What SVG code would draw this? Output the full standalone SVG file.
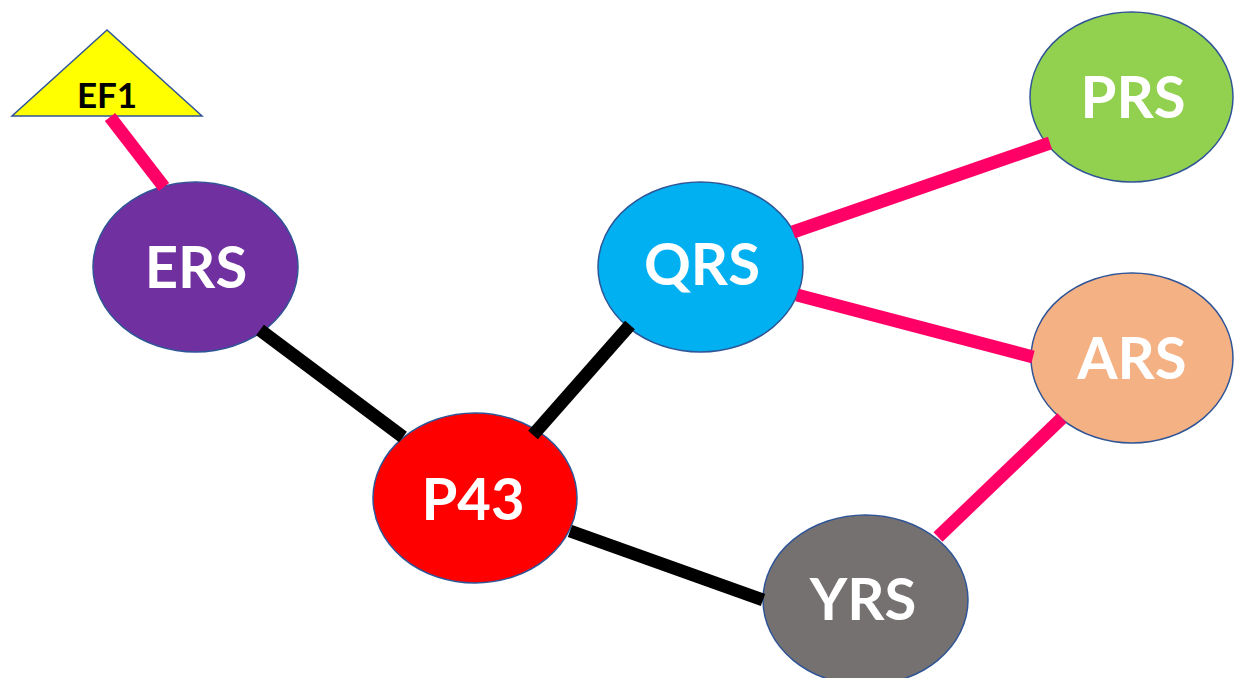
<svg xmlns="http://www.w3.org/2000/svg" width="1234" height="678" viewBox="0 0 1234 678">
<style>
.n{stroke:#2F5597;stroke-width:1.5}
.t{font-family:Lato,"Open Sans",sans-serif;font-weight:bold;font-size:58px;fill:#fff;text-anchor:middle}
.e{font-family:Lato,"Open Sans",sans-serif;font-weight:bold;font-size:35px;fill:#000;text-anchor:middle}
.k{stroke:#000;stroke-width:13;stroke-linecap:butt}
.p{stroke:#FF0066;stroke-width:13;stroke-linecap:butt}
</style>
<rect width="1234" height="678" fill="#fff"/>
<g id="EF1"><polygon class="n" points="107,30 12,116 202,116" fill="#FFFF00"/><text class="e" x="107" y="108">EF1</text></g>
<g id="ERS"><ellipse class="n" cx="195.5" cy="267" rx="102.5" ry="85" fill="#7030A0"/><text class="t" x="196" y="288">ERS</text></g>
<g id="P43"><ellipse class="n" cx="475" cy="498" rx="102" ry="85" fill="#FF0000"/><text class="t" x="473" y="520">P43</text></g>
<g id="QRS"><ellipse class="n" cx="700.5" cy="267" rx="102.5" ry="85" fill="#00B0F0"/><text class="t" x="702" y="285">QRS</text></g>
<g id="PRS"><ellipse class="n" cx="1131.5" cy="97" rx="101.5" ry="85" fill="#92D050"/><text class="t" x="1133" y="118">PRS</text></g>
<g id="ARS"><ellipse class="n" cx="1132" cy="358" rx="101" ry="85" fill="#F4B183"/><text class="t" x="1132" y="379">ARS</text></g>
<g id="YRS"><ellipse class="n" cx="865.5" cy="600" rx="102.5" ry="85" fill="#767171"/><text class="t" x="863" y="620">YRS</text></g>
<g id="connectors">
<line class="p" x1="110" y1="117" x2="164" y2="187"/>
<line class="k" x1="260" y1="330" x2="403" y2="437"/>
<line class="k" x1="533" y1="435" x2="630" y2="325"/>
<line class="k" x1="570" y1="531" x2="763" y2="600"/>
<line class="p" x1="793" y1="232" x2="1050" y2="143"/>
<line class="p" x1="797" y1="295" x2="1033" y2="357"/>
<line class="p" x1="1062" y1="418" x2="938" y2="537"/>
</g>
</svg>
